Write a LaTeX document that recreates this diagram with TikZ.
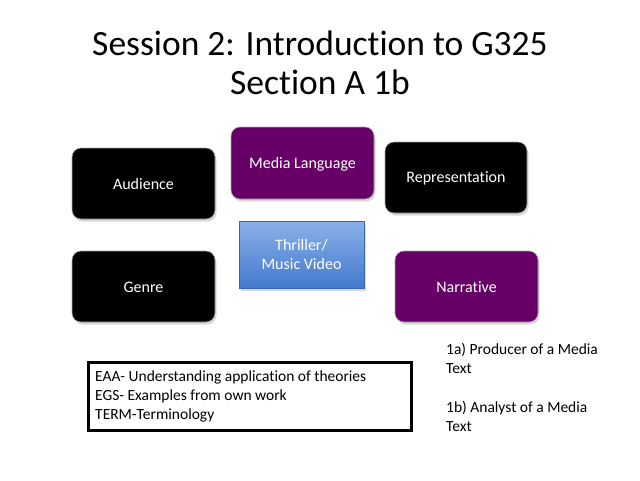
\documentclass[tikz,border=0pt]{standalone}
\usepackage{fontspec}
\setmainfont[Ligatures=NoCommon]{Carlito}
\usetikzlibrary{shadows}
\definecolor{mypurple}{HTML}{660066}
\definecolor{bluetop}{HTML}{8AB0E8}
\definecolor{bluebot}{HTML}{4479CE}
\tikzset{
  tile/.style={rounded corners=9pt, draw=gray!70, line width=0.6pt,
    drop shadow={shadow xshift=1.5pt, shadow yshift=-2.5pt, opacity=0.3, fill=gray}},
  blacktile/.style={tile, fill=black},
  purpletile/.style={tile, fill=mypurple},
  tiletext/.style={text=white, font=\fontsize{16}{19}\selectfont, align=center},
  plain/.style={font=\fontsize{15.5}{19}\selectfont, inner sep=0pt, anchor=west},
  titletext/.style={font=\fontsize{35.5}{39}\selectfont},
}
\begin{document}
\begin{tikzpicture}[x=1pt,y=-1pt]
\useasboundingbox (0,0) rectangle (640,480);
\node[titletext] (t1) at (320,43) {Session 2: Introduction to G325};
\node[titletext] (t2) at (320,82) {Section A 1b};

\path[blacktile] (72,148) rectangle (215,219);
\node[tiletext] (aud) at (143.5,184) {Audience};
\path[purpletile] (231,127) rectangle (374,199);
\node[tiletext] (ml) at (302.5,164) {Media Language};
\path[blacktile] (385,142) rectangle (527,213);
\node[tiletext] (rep) at (456,178) {Representation};
\path[blacktile] (72,251) rectangle (215,322);
\node[tiletext] (gen) at (143.5,287) {Genre};
\path[purpletile] (395,251) rectangle (538,322);
\node[tiletext] (nar) at (466.5,287) {Narrative};

\path[top color=bluetop, bottom color=bluebot, draw=bluebot!85!black, line width=0.4pt,
  drop shadow={shadow xshift=1.5pt, shadow yshift=-2.5pt, opacity=0.3, fill=gray}]
  (239,221) rectangle (364,288);
\node[tiletext] (thr) at (301.5,254.5) {Thriller/\\Music Video};

\draw[line width=3pt] (88,362) rectangle (411,430);
\node[plain] (e1) at (95,377) {EAA- Understanding application of theories};
\node[plain] (e2) at (95,396) {EGS- Examples from own work};
\node[plain] (e3) at (95,415) {TERM-Terminology};

\node[plain] (r1) at (446,350) {1a) Producer of a Media};
\node[plain] (r2) at (446,369) {Text};
\node[plain] (r3) at (446,408) {1b) Analyst of a Media};
\node[plain] (r4) at (446,427) {Text};
\end{tikzpicture}
\end{document}
